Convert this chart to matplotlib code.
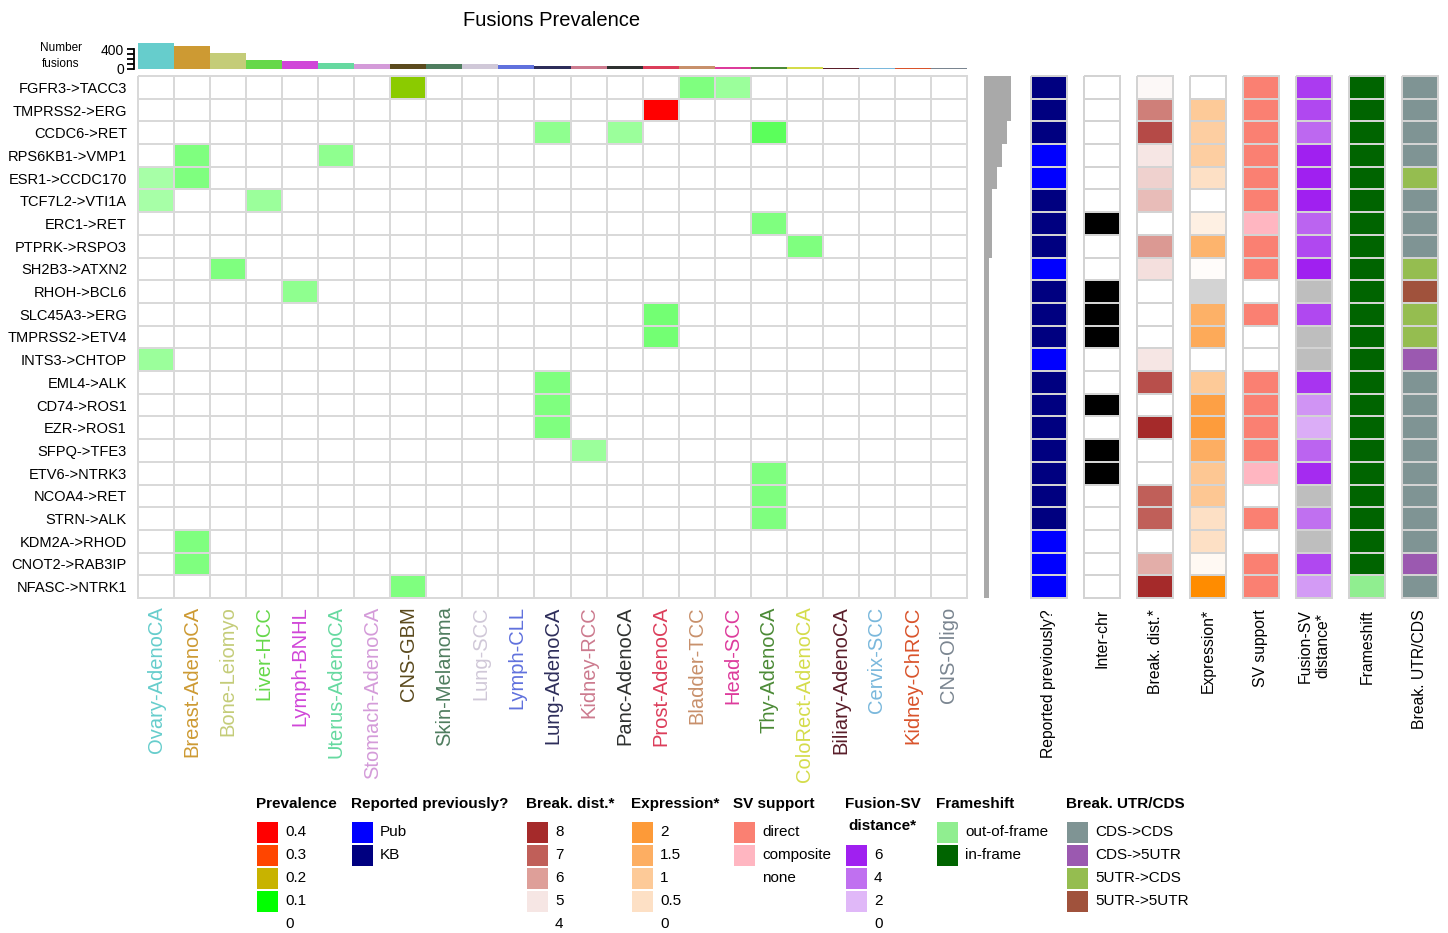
import numpy as np
import matplotlib
matplotlib.use("Agg")
import matplotlib.pyplot as plt
from matplotlib.colors import LinearSegmentedColormap, ListedColormap
from matplotlib.patches import Rectangle

plt.rcParams['font.family'] = ['Liberation Sans', 'DejaVu Sans']

W, H = 1448, 933

# ---- data ----
fusions = ["FGFR3->TACC3", "TMPRSS2->ERG", "CCDC6->RET", "RPS6KB1->VMP1", "ESR1->CCDC170",
           "TCF7L2->VTI1A", "ERC1->RET", "PTPRK->RSPO3", "SH2B3->ATXN2", "RHOH->BCL6",
           "SLC45A3->ERG", "TMPRSS2->ETV4", "INTS3->CHTOP", "EML4->ALK", "CD74->ROS1",
           "EZR->ROS1", "SFPQ->TFE3", "ETV6->NTRK3", "NCOA4->RET", "STRN->ALK",
           "KDM2A->RHOD", "CNOT2->RAB3IP", "NFASC->NTRK1"]

tumour_types = ["Ovary-AdenoCA", "Breast-AdenoCA", "Bone-Leiomyo", "Liver-HCC", "Lymph-BNHL",
                "Uterus-AdenoCA", "Stomach-AdenoCA", "CNS-GBM", "Skin-Melanoma", "Lung-SCC",
                "Lymph-CLL", "Lung-AdenoCA", "Kidney-RCC", "Panc-AdenoCA", "Prost-AdenoCA",
                "Bladder-TCC", "Head-SCC", "Thy-AdenoCA", "ColoRect-AdenoCA", "Biliary-AdenoCA",
                "Cervix-SCC", "Kidney-ChRCC", "CNS-Oligo"]
type_colors = ["#66cdcc", "#cd9a33", "#c4cc78", "#66d84a", "#d046d8",
               "#66d9a0", "#d49bd9", "#5b4a1e", "#4f7d5f", "#d0c8d8",
               "#6071dd", "#2d2d5a", "#cc7a8e", "#2f3130", "#dc3d5a",
               "#c8906b", "#dd3b9c", "#4b8a36", "#d4dc4a", "#5a1e2a",
               "#7ab8dc", "#d9532b", "#7a8590"]
n_fusions_type = [520, 460, 320, 180, 160, 120, 100, 100, 100, 95, 80, 60,
                  60, 60, 60, 55, 50, 50, 45, 30, 30, 30, 15]

# (fusion, tumour type, prevalence)
hits = [("FGFR3->TACC3", "CNS-GBM", 0.17), ("FGFR3->TACC3", "Bladder-TCC", 0.05),
        ("FGFR3->TACC3", "Head-SCC", 0.04), ("TMPRSS2->ERG", "Prost-AdenoCA", 0.40),
        ("CCDC6->RET", "Lung-AdenoCA", 0.045), ("CCDC6->RET", "Panc-AdenoCA", 0.04),
        ("CCDC6->RET", "Thy-AdenoCA", 0.065), ("RPS6KB1->VMP1", "Breast-AdenoCA", 0.05),
        ("RPS6KB1->VMP1", "Uterus-AdenoCA", 0.045), ("ESR1->CCDC170", "Ovary-AdenoCA", 0.035),
        ("ESR1->CCDC170", "Breast-AdenoCA", 0.05), ("TCF7L2->VTI1A", "Ovary-AdenoCA", 0.035),
        ("TCF7L2->VTI1A", "Liver-HCC", 0.04), ("ERC1->RET", "Thy-AdenoCA", 0.05),
        ("PTPRK->RSPO3", "ColoRect-AdenoCA", 0.05), ("SH2B3->ATXN2", "Bone-Leiomyo", 0.05),
        ("RHOH->BCL6", "Lymph-BNHL", 0.045), ("SLC45A3->ERG", "Prost-AdenoCA", 0.055),
        ("TMPRSS2->ETV4", "Prost-AdenoCA", 0.055), ("INTS3->CHTOP", "Ovary-AdenoCA", 0.04),
        ("EML4->ALK", "Lung-AdenoCA", 0.05), ("CD74->ROS1", "Lung-AdenoCA", 0.05),
        ("EZR->ROS1", "Lung-AdenoCA", 0.05), ("SFPQ->TFE3", "Kidney-RCC", 0.04),
        ("ETV6->NTRK3", "Thy-AdenoCA", 0.05), ("NCOA4->RET", "Thy-AdenoCA", 0.05),
        ("STRN->ALK", "Thy-AdenoCA", 0.05), ("KDM2A->RHOD", "Breast-AdenoCA", 0.05),
        ("CNOT2->RAB3IP", "Breast-AdenoCA", 0.05), ("NFASC->NTRK1", "CNS-GBM", 0.05)]

samples_fusion = [16, 16, 14, 11, 8, 5, 5, 5, 3, 3, 3, 3, 3, 3, 3, 3, 3, 3, 3, 3, 3, 3, 3]

reported = ["KB", "KB", "KB", "Pub", "Pub", "KB", "KB", "KB", "Pub", "KB", "KB", "KB",
            "Pub", "KB", "KB", "KB", "KB", "KB", "KB", "KB", "Pub", "Pub", "Pub"]
inter_chr = [0, 0, 0, 0, 0, 0, 1, 0, 0, 1, 1, 1, 0, 0, 1, 0, 1, 1, 0, 0, 0, 0, 0]
break_dist = [4.3, 6.5, 7.4, 5.0, 5.3, 5.6, np.nan, 6.1, 5.1, np.nan, np.nan, np.nan,
              5.0, 7.3, np.nan, 8.0, np.nan, np.nan, 7.0, 7.0, np.nan, 5.8, 8.0]
expression = [0, 1.0, 0.9, 0.9, 0.5, 0, 0.25, 1.4, 0.05, np.nan, 1.45, 1.6,
              0, 1.0, 1.85, 1.95, 1.5, 1.05, 1.05, 0.5, 0.5, 0.1, 2.3]
sv_support = ["direct", "direct", "direct", "direct", "direct", "direct", "composite", "direct",
              "direct", "none", "direct", "none", "none", "direct", "direct", "direct", "direct",
              "composite", "none", "direct", "none", "direct", "direct"]
fusion_sv_dist = [5.3, 5.0, 4.2, 6.0, 6.0, 6.0, 4.3, 5.0, 6.0, np.nan, 5.0, np.nan,
                  np.nan, 5.5, 3.0, 2.3, 4.3, 5.7, np.nan, 4.0, np.nan, 5.0, 2.8]
frameshift = ["in-frame"] * 22 + ["out-of-frame"]
break_utr = ["CDS->CDS", "CDS->CDS", "CDS->CDS", "CDS->CDS", "5UTR->CDS", "CDS->CDS",
             "CDS->CDS", "CDS->CDS", "5UTR->CDS", "5UTR->5UTR", "5UTR->CDS", "5UTR->CDS",
             "CDS->5UTR", "CDS->CDS", "CDS->CDS", "CDS->CDS", "CDS->CDS", "CDS->CDS",
             "CDS->CDS", "CDS->CDS", "CDS->CDS", "CDS->5UTR", "CDS->CDS"]

# ---- colour scales ----
grid_col = "#d9d9d9"
prev_cmap = LinearSegmentedColormap.from_list(
    "prev", [(0, "white"), (0.25, "#00ff00"), (0.5, "#c8b400"), (0.75, "#ff4500"), (1, "#ff0000")])
dist_cmap = LinearSegmentedColormap.from_list(
    "dist", [(0, "white"), (0.25, "#f6e6e4"), (0.5, "#dea09a"), (0.75, "#c0605a"), (1, "#a52a2a")])
dist_cmap.set_bad("white")
expr_cmap = LinearSegmentedColormap.from_list(
    "expr", [(0, "white"), (0.5 / 2.3, "#fde0c5"), (1 / 2.3, "#fdca98"),
             (1.5 / 2.3, "#fdae62"), (2 / 2.3, "#fd9a38"), (1, "#ff8c00")])
expr_cmap.set_bad("#d3d3d3")
fsv_cmap = LinearSegmentedColormap.from_list(
    "fsv", [(0, "white"), (1 / 3, "#e0b8f8"), (2 / 3, "#c070f0"), (1, "#a020f0")])
fsv_cmap.set_bad("#bebebe")

reported_cols = {"Pub": "#0000ff", "KB": "#000080"}
inter_cols = {0: "white", 1: "black"}
sv_cols = {"direct": "#fa8072", "composite": "#ffb6c1", "none": "white"}
frame_cols = {"out-of-frame": "#90ee90", "in-frame": "#006400"}
utr_cols = {"CDS->CDS": "#7f9494", "CDS->5UTR": "#9b59b0", "5UTR->CDS": "#95bd50",
            "5UTR->5UTR": "#a0523c"}

fig = plt.figure(figsize=(W / 100, H / 100), dpi=100)


def add_ax(x0, y0, x1, y1):
    return fig.add_axes([x0 / W, 1 - y1 / H, (x1 - x0) / W, (y1 - y0) / H])


def px(x, y):
    return x / W, 1 - y / H


nf, nt = len(fusions), len(tumour_types)

# main heatmap
ax = add_ax(138, 76, 967, 598)
mat = np.zeros((nf, nt))
for f, t, v in hits:
    mat[fusions.index(f), tumour_types.index(t)] = v
mesh = ax.pcolormesh(mat, cmap=prev_cmap, vmin=0, vmax=0.4, edgecolors=grid_col, linewidth=1.2)
mesh.set_clip_on(False)
ax.set_xlim(0, nt)
ax.set_ylim(nf, 0)
ax.set_xticks(np.arange(nt) + 0.5, tumour_types, rotation=90, fontsize=14.5)
for lab, c in zip(ax.get_xticklabels(), type_colors):
    lab.set_color(c)
ax.set_yticks(np.arange(nf) + 0.5, fusions, fontsize=10.5)
ax.tick_params(axis="x", length=0, pad=6)
ax.tick_params(axis="y", length=0, pad=8)
for s in ax.spines.values():
    s.set_visible(False)

# top bars: number of fusions per tumour type
axb = add_ax(138, 40, 967, 69)
axb.bar(np.arange(nt) + 0.5, n_fusions_type, width=1, color=type_colors)
axb.set_xlim(0, nt)
axb.set_ylim(0, 580)
axb.set_xticks([])
axb.set_yticks([0, 100, 200, 300, 400], ["0", "", "", "", "400"], fontsize=11.5)
axb.tick_params(axis="y", length=5, width=1.3, pad=2)
for k in ["top", "right", "bottom"]:
    axb.spines[k].set_visible(False)
axb.spines["left"].set_position(("outward", 3))
axb.spines["left"].set_linewidth(1.3)
axb.spines["left"].set_bounds(0, 400)
fig.text(*px(61, 56), "Number\nfusions", fontsize=8.5, ha="center", va="center", linespacing=1.5)
fig.text(*px(552, 20), "Fusions Prevalence", fontsize=14.5, ha="center", va="center")

# grey bars: samples per fusion
axg = add_ax(984, 76, 1013, 598)
axg.barh(np.arange(nf) + 0.5, samples_fusion, height=1, color="#a9a9a9")
axg.set_ylim(nf, 0)
axg.set_xlim(0, 17.4)
axg.axis("off")


# annotation columns
def finish_column(a, m, label):
    m.set_clip_on(False)
    a.set_ylim(nf, 0)
    a.set_xlim(0, 1)
    a.set_yticks([])
    a.set_xticks([0.5], [label], rotation=90, fontsize=11.3)
    a.tick_params(axis="x", length=0, pad=8)
    for s in a.spines.values():
        s.set_visible(False)


def cat_column(x0, values, colmap, label):
    cats = list(colmap.keys())
    codes = np.array([[cats.index(v)] for v in values])
    a = add_ax(x0, 76, x0 + 36, 598)
    m = a.pcolormesh(codes, cmap=ListedColormap([colmap[c] for c in cats]),
                     vmin=-0.5, vmax=len(cats) - 0.5, edgecolors="#d3d3d3", linewidth=1.2)
    finish_column(a, m, label)


def num_column(x0, values, cmap, vmin, vmax, label):
    a = add_ax(x0, 76, x0 + 36, 598)
    m = a.pcolormesh(np.ma.masked_invalid(np.array(values)[:, None]), cmap=cmap,
                     vmin=vmin, vmax=vmax, edgecolors="#d3d3d3", linewidth=1.2)
    finish_column(a, m, label)


cat_column(1031, reported, reported_cols, "Reported previously?")
cat_column(1084, inter_chr, inter_cols, "Inter-chr")
num_column(1137, break_dist, dist_cmap, 4, 8, "Break. dist.*")
num_column(1190, expression, expr_cmap, 0, 2.3, "Expression*")
cat_column(1243, sv_support, sv_cols, "SV support")
num_column(1296, fusion_sv_dist, fsv_cmap, 0, 6, "Fusion-SV\ndistance*")
cat_column(1349, frameshift, frame_cols, "Frameshift")
cat_column(1402, break_utr, utr_cols, "Break. UTR/CDS")

# legends
axl = add_ax(0, 790, W, H)
axl.set_xlim(0, W)
axl.set_ylim(H, 790)
axl.axis("off")


def legend(x, title, entries, y_first=832):
    axl.text(x - 1, 797, title, fontsize=11, fontweight="bold", ha="left", va="top",
             multialignment="center", linespacing=1.75)
    for i, (col, lab) in enumerate(entries):
        yc = y_first + 23 * i
        axl.add_patch(Rectangle((x, yc - 10.5), 21, 21, facecolor=col, edgecolor="none"))
        axl.text(x + 28, yc, lab, fontsize=11, ha="left", va="center")


legend(257, "Prevalence",
       [(prev_cmap(v / 0.4), lab) for v, lab in [(0.4, "0.4"), (0.3, "0.3"), (0.2, "0.2"),
                                                 (0.1, "0.1"), (0, "0")]])
legend(352, "Reported previously?", [(reported_cols[k], k) for k in ["Pub", "KB"]])
legend(527, "Break. dist.*", [(dist_cmap((v - 4) / 4), str(v)) for v in [8, 7, 6, 5, 4]])
legend(632, "Expression*", [(expr_cmap(v / 2.3), lab) for v, lab in
                            [(2, "2"), (1.5, "1.5"), (1, "1"), (0.5, "0.5"), (0, "0")]])
legend(734, "SV support", [(sv_cols[k], k) for k in ["direct", "composite", "none"]])
legend(846, "Fusion-SV\ndistance*", [(fsv_cmap(v / 6), str(v)) for v in [6, 4, 2, 0]], y_first=855)
legend(937, "Frameshift", [(frame_cols[k], k) for k in ["out-of-frame", "in-frame"]])
legend(1067, "Break. UTR/CDS", [(utr_cols[k], k) for k in utr_cols])

fig.savefig("out.png", dpi=100)
